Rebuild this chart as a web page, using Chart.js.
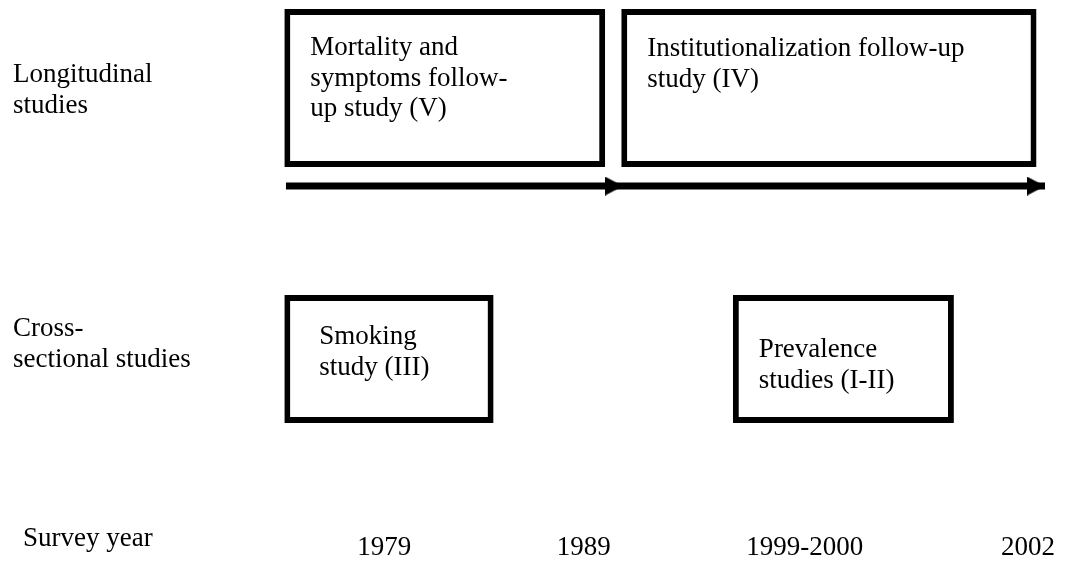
<!DOCTYPE html>
<html><head><meta charset="utf-8">
<script src="https://cdn.jsdelivr.net/npm/chart.js@4.4.0/dist/chart.umd.min.js"></script>
<style>html,body{margin:0;padding:0;background:#fff;}canvas{display:block;}</style>
</head><body>
<canvas id="c" width="1073" height="561"></canvas>
<script>
// ---- data (schematic timeline units: x 0..100 left->right, y 0..100 top->bottom) ----
const rowLabels = [['Longitudinal', 'studies'], ['Cross-', 'sectional studies'], ['Survey year']];
const rowPos = [15.7, 64.0, 97.0];

const longNames = [['Mortality and', 'symptoms follow-', 'up study (V)'], ['Institutionalization follow-up', 'study (IV)']];
const longStart = [26.5, 57.9];
const longEnd = [56.4, 96.6];

const crossNames = [['Smoking', 'study (III)'], ['Prevalence', 'studies (I-II)']];
const crossStart = [26.5, 68.3];
const crossEnd = [46.0, 88.9];

const arrowStart = [26.65, 58.06];
const arrowEnd = [58.06, 97.39];
const arrowRow = 33.16;

const yearLabels = ['1979', '1989', '1999-2000', '2002'];
const yearPos = [35.8, 54.4, 75.0, 95.8];

// ---- styles ----
const FONT = '27px "Liberation Serif", "Times New Roman", serif';
const BOX_LH = 30.5;
const ROW_LH = 31;
const boxTextStyle = { long: [{dx: 26, dy: 46}, {dx: 26, dy: 47}], cross: [{dx: 35, dy: 49}, {dx: 26, dy: 62}] };
const rowLabelStyle = [{dx: 13, dy: -6}, {dx: 13, dy: -23}, {dx: 23, dy: 2}];
const yearDy = 11;

function makeHead(len, h) {
  const c = document.createElement('canvas');
  c.width = len * 2; c.height = h;
  const g = c.getContext('2d');
  g.fillStyle = '#000';
  g.beginPath(); g.moveTo(0, 0); g.lineTo(len, h / 2); g.lineTo(0, h); g.closePath(); g.fill();
  return c;
}
const head = makeHead(18, 19);

const boxCommon = {
  type: 'bar', indexAxis: 'y', stack: 'boxes',
  backgroundColor: '#ffffff', borderColor: '#000000', borderWidth: 6,
  borderSkipped: false, inflateAmount: 0, borderRadius: 0
};

const datasets = [
  Object.assign({}, boxCommon, {
    label: 'Longitudinal studies', barThickness: 158,
    data: longStart.map((s, i) => ({x: [s, longEnd[i]], y: rowPos[0]}))
  }),
  Object.assign({}, boxCommon, {
    label: 'Cross-sectional studies', barThickness: 128,
    data: crossStart.map((s, i) => ({x: [s, crossEnd[i]], y: rowPos[1]}))
  })
];
arrowStart.forEach((s, i) => {
  datasets.push({
    type: 'line', label: 'Follow-up ' + (i + 1),
    data: [{x: s, y: arrowRow}, {x: arrowEnd[i], y: arrowRow}],
    borderColor: '#000', borderWidth: 7, borderCapStyle: 'butt', fill: false, tension: 0,
    pointRadius: [0, 9], pointHoverRadius: [0, 9], pointStyle: head, pointBorderWidth: 0,
    pointBackgroundColor: '#000'
  });
});

const textPlugin = {
  id: 'diagramText',
  afterDatasetsDraw(chart) {
    const ctx = chart.ctx, xS = chart.scales.x, yS = chart.scales.y;
    ctx.save();
    ctx.font = FONT; ctx.fillStyle = '#000'; ctx.textBaseline = 'alphabetic'; ctx.textAlign = 'left';
    [[0, longNames, boxTextStyle.long], [1, crossNames, boxTextStyle.cross]].forEach(([di, names, st]) => {
      chart.getDatasetMeta(di).data.forEach((el, i) => {
        const p = el.getProps(['x', 'y', 'base', 'height'], true);
        const left = Math.min(p.x, p.base), top = p.y - p.height / 2;
        names[i].forEach((line, k) => ctx.fillText(line, left + st[i].dx, top + st[i].dy + k * BOX_LH));
      });
    });
    rowLabels.forEach((lines, r) => {
      const y0 = yS.getPixelForValue(rowPos[r]) + rowLabelStyle[r].dy;
      lines.forEach((l, k) => ctx.fillText(l, rowLabelStyle[r].dx, y0 + k * ROW_LH));
    });
    ctx.textAlign = 'center';
    const yy = yS.getPixelForValue(rowPos[2]) + yearDy;
    yearLabels.forEach((t, i) => ctx.fillText(t, xS.getPixelForValue(yearPos[i]), yy));
    ctx.restore();
  }
};

new Chart(document.getElementById('c'), {
  type: 'bar',
  data: { datasets },
  options: {
    responsive: false, devicePixelRatio: 1, animation: false, events: [],
    layout: { padding: 0, autoPadding: false },
    plugins: { legend: { display: false }, tooltip: { enabled: false } },
    scales: {
      x: { type: 'linear', min: 0, max: 100, display: false, offset: false, stacked: false },
      y: { type: 'linear', min: 0, max: 100, reverse: true, display: false, offset: false }
    }
  },
  plugins: [textPlugin]
});
</script>
</body></html>
